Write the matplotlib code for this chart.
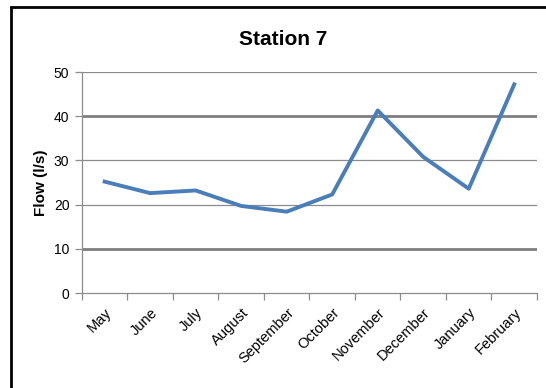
import matplotlib.pyplot as plt
import numpy as np
from matplotlib.patches import Rectangle

# data
months = ["May", "June", "July", "August", "September", "October",
          "November", "December", "January", "February"]
flow = [25.2, 22.6, 23.2, 19.7, 18.4, 22.3, 41.3, 30.8, 23.6, 47.2]
y_ticks = [0, 10, 20, 30, 40, 50]
heavy_lines = [10, 40]

plt.rcParams["font.family"] = ["Liberation Sans", "DejaVu Sans"]

fig = plt.figure(figsize=(5.46, 3.88), dpi=100)
ax = fig.add_axes([0.150, 0.2448, 0.8335, 0.5696])

# black outer frame of the chart area
fig.patches.append(Rectangle((11 / 546, -0.1), 1.2, 1 - 7 / 388 + 0.1,
                             transform=fig.transFigure, fill=False,
                             edgecolor="black", linewidth=2, zorder=10))

x = np.arange(len(months))
ax.plot(x, flow, color="#4a7ebb", linewidth=2.8, solid_joinstyle="round", zorder=3)

# gridlines
for v in y_ticks:
    if v == 0:
        continue
    if v in heavy_lines:
        ax.axhline(v, color="#7f7f7f", linewidth=2.0, zorder=1)
    else:
        ax.axhline(v, color="#8c8c8c", linewidth=0.9, zorder=1)

ax.set_xlim(-0.5, len(months) - 0.5)
ax.set_ylim(0, 50)
ax.set_yticks(y_ticks)
ax.tick_params(axis="y", length=5, width=0.9, color="#8c8c8c", labelsize=10, pad=4)

ax.set_xticks(x)
ax.set_xticklabels(months, rotation=45, ha="right", va="top",
                   rotation_mode="anchor", fontsize=10.5)
ax.set_xticks(np.arange(-0.5, len(months)), minor=True)
ax.tick_params(axis="x", which="major", length=0, pad=9)
ax.tick_params(axis="x", which="minor", length=5, width=0.9, color="#8c8c8c")

for s in ["top", "right"]:
    ax.spines[s].set_visible(False)
for s in ["left", "bottom"]:
    ax.spines[s].set_color("#8c8c8c")
    ax.spines[s].set_linewidth(0.9)

ax.set_ylabel("Flow (l/s)", fontsize=11, fontweight="bold", labelpad=4)
fig.text(0.518, 0.898, "Station 7", fontsize=15, fontweight="bold",
         ha="center", va="center")

fig.savefig("out.png", dpi=100)
